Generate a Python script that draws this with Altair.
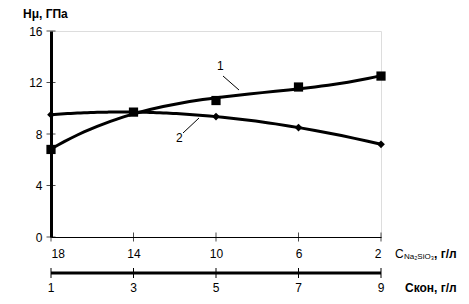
import altair as alt
import pandas as pd

c_na = [18, 14, 10, 6, 2]
c_kon = [1, 3, 5, 7, 9]
series1 = [6.8, 9.7, 10.6, 11.65, 12.5]
series2 = [9.5, 9.7, 9.35, 8.5, 7.2]
y_ticks = [0, 4, 8, 12, 16]

FONT = "Liberation Sans"

df = pd.DataFrame({
    "c": c_na * 2,
    "h": series1 + series2,
    "s": ["1"] * 5 + ["2"] * 5,
})
df_k = pd.DataFrame({"k": c_kon, "c": c_na})
df_xt = pd.DataFrame({"c": c_na, "zero": [0] * 5})
df_yt = pd.DataFrame({"v": y_ticks, "left": [18] * 5})

xscale = alt.Scale(domain=[2, 18], reverse=True, nice=False, zero=False)
yscale = alt.Scale(domain=[0, 16], nice=False)

xaxis = alt.Axis(values=c_na, title=None, labelFont=FONT, labelFontSize=12,
                 labelColor="black", domainColor="black", domainWidth=1,
                 ticks=False, labelPadding=11, grid=False)
yaxis = alt.Axis(values=y_ticks, title=None, labelFont=FONT, labelFontSize=12,
                 labelColor="black", domainColor="black", domainWidth=3,
                 ticks=False, labelPadding=9, grid=False)

base = alt.Chart(df)

curves = base.transform_regression(
    "c", "h", groupby=["s"], method="poly", order=3, extent=[2, 18]
).mark_line(color="black", strokeWidth=3).encode(
    x=alt.X("c:Q", scale=xscale, axis=xaxis),
    y=alt.Y("h:Q", scale=yscale, axis=yaxis),
    detail="s:N",
)

sq = base.transform_filter(alt.datum.s == "1").mark_point(
    shape="square", filled=True, color="black", size=85, opacity=1
).encode(x=alt.X("c:Q", scale=xscale), y=alt.Y("h:Q", scale=yscale))

dm = base.transform_filter(alt.datum.s == "2").mark_point(
    shape="diamond", filled=True, color="black", size=60, opacity=1
).encode(x=alt.X("c:Q", scale=xscale), y=alt.Y("h:Q", scale=yscale))

xt = alt.Chart(df_xt).mark_tick(color="black", orient="vertical", size=9, thickness=1).encode(
    x=alt.X("c:Q", scale=xscale), y=alt.Y("zero:Q", scale=yscale))
yt = alt.Chart(df_yt).mark_tick(color="black", orient="horizontal", size=9, thickness=1).encode(
    x=alt.X("left:Q", scale=xscale), y=alt.Y("v:Q", scale=yscale))

# second (Скон) axis, sharing positions with the first axis
k_line = alt.Chart(pd.DataFrame({"a": [18], "b": [2]})).mark_rule(color="black", strokeWidth=3).encode(
    x=alt.X("a:Q", scale=xscale), x2="b:Q", y=alt.value(242))
k_ticks = alt.Chart(df_k).mark_rule(color="black", strokeWidth=1).encode(
    x=alt.X("c:Q", scale=xscale), y=alt.value(237), y2=alt.value(247))
k_labels = alt.Chart(df_k).mark_text(
    font=FONT, fontSize=12, color="black", baseline="middle"
).encode(x=alt.X("c:Q", scale=xscale), y=alt.value(257), text="k:N")

ann_text = alt.Chart(pd.DataFrame({"t": ["1", "2"], "px": [166, 125], "py": [35, 107]})).mark_text(
    font=FONT, fontSize=12, color="black", align="left", baseline="middle"
).encode(x=alt.X("px:Q", scale=None), y=alt.Y("py:Q", scale=None), text="t:N")

lead1 = alt.Chart(pd.DataFrame({"a": [0]})).mark_rule(color="black", strokeWidth=1).encode(
    x=alt.value(172), x2=alt.value(188), y=alt.value(45), y2=alt.value(59))
lead2 = alt.Chart(pd.DataFrame({"a": [0]})).mark_rule(color="black", strokeWidth=1).encode(
    x=alt.value(132), x2=alt.value(148), y=alt.value(102), y2=alt.value(87))

ytitle = alt.Chart(pd.DataFrame({"a": [0]})).mark_text(
    font=FONT, fontSize=12, fontWeight="bold", color="black", align="left", baseline="middle", text="Hμ, ГПа"
).encode(x=alt.value(-28), y=alt.value(-17))

t_c = alt.Chart(pd.DataFrame({"a": [0]})).mark_text(
    font=FONT, fontSize=12, color="black", align="left", baseline="middle", text="C"
).encode(x=alt.value(344), y=alt.value(223))
t_sub = alt.Chart(pd.DataFrame({"a": [0]})).mark_text(
    font=FONT, fontSize=8, color="black", align="left", baseline="middle", text="Na₂SiO₃"
).encode(x=alt.value(353), y=alt.value(226))
t_unit = alt.Chart(pd.DataFrame({"a": [0]})).mark_text(
    font=FONT, fontSize=12, fontWeight="bold", color="black", align="left", baseline="middle", text=", г/л"
).encode(x=alt.value(383), y=alt.value(223))
t_kon = alt.Chart(pd.DataFrame({"a": [0]})).mark_text(
    font=FONT, fontSize=12, fontWeight="bold", color="black", align="left", baseline="middle", text="Скон, г/л"
).encode(x=alt.value(354), y=alt.value(257))

chart = alt.layer(
    curves, sq, dm, xt, yt, k_line, k_ticks, k_labels,
    ann_text, lead1, lead2, ytitle, t_c, t_sub, t_unit, t_kon
).properties(
    width=330, height=206,
    autosize=alt.AutoSizeParams(type="none"),
    padding={"left": 43, "top": 23, "right": 80, "bottom": 57},
).configure_view(stroke="black", strokeWidth=1).configure(background="white")

chart.save("out.html", embed_options={"renderer": "svg", "actions": False})
